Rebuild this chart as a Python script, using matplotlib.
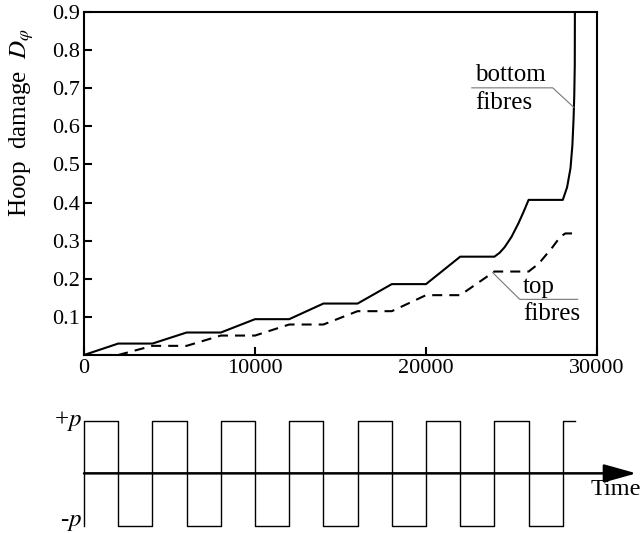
import numpy as np
import matplotlib.pyplot as plt

plt.rcParams['font.family'] = ['Liberation Serif', 'DejaVu Serif']
plt.rcParams['mathtext.fontset'] = 'stix'

# damage history
bottom_t = [0, 2000, 4000, 6000, 8000, 10000, 12000, 14000, 16000, 18000, 20000,
            21000, 22000, 24000, 24300, 24600, 25000, 25400, 25700, 26000, 28000,
            28250, 28450, 28560, 28630, 28670, 28700, 28710]
bottom_d = [0, 0.030, 0.030, 0.059, 0.059, 0.094, 0.094, 0.135, 0.135, 0.186, 0.186,
            0.222, 0.258, 0.258, 0.268, 0.283, 0.310, 0.345, 0.375, 0.407, 0.407,
            0.440, 0.490, 0.550, 0.620, 0.680, 0.760, 0.950]
top_t = [0, 2000, 4000, 6000, 8000, 10000, 12000, 14000, 16000, 18000, 20000,
         22000, 24000, 26000, 26600, 27400, 27850, 28150, 28600]
top_d = [0, 0, 0.024, 0.024, 0.051, 0.051, 0.080, 0.080, 0.115, 0.115, 0.157,
         0.157, 0.219, 0.219, 0.240, 0.283, 0.310, 0.319, 0.319]

# loading: +p / -p half cycles
load_t = [0, 2000, 4000, 6000, 8000, 10000, 12000, 14000, 16000, 18000, 20000,
          22000, 24000, 26000, 28000, 28700]
load_p = [1, -1, 1, -1, 1, -1, 1, -1, 1, -1, 1, -1, 1, -1, 1, 1]

xticks = [0, 10000, 20000, 30000]
yticks = [0.1, 0.2, 0.3, 0.4, 0.5, 0.6, 0.7, 0.8, 0.9]

W, H = 643, 533
fig = plt.figure(figsize=(W / 100, H / 100), dpi=100)

ax = fig.add_axes([84 / W, 1 - 355 / H, (597 - 84) / W, (355 - 12) / H])
ax.plot(bottom_t, bottom_d, color='k', lw=1.5)
ax.plot(top_t, top_d, color='k', lw=1.5, ls=(0, (4.8, 3.4)))
ax.set_xlim(0, 30000)
ax.set_ylim(0, 0.9)
ax.set_xticks(xticks)
ax.set_xticklabels([str(v) for v in xticks])
ax.set_yticks(yticks)
ax.set_yticklabels([f'{v:.1f}' for v in yticks])
ax.tick_params(direction='in', length=6, width=1.5, labelsize=16, pad=3)
for s in ax.spines.values():
    s.set_linewidth(1.5)

fig.text(22 / W, 1 - 123 / H, 'Hoop  damage  $D_\\varphi$', rotation=90,
         ha='center', va='center', fontsize=18)

# labels with leader lines
grey = '#777777'
ax.plot([22677, 27411, 28640], [0.701, 0.701, 0.650], color=grey, lw=0.8)
ax.text(22850, 0.735, 'bottom', fontsize=18, ha='left', va='center')
ax.text(22850, 0.662, 'fibres', fontsize=18, ha='left', va='center')
ax.plot([23904, 25482, 28872], [0.216, 0.146, 0.146], color=grey, lw=0.8)
ax.text(25657, 0.178, 'top', fontsize=18, ha='left', va='center')
ax.text(25657, 0.108, 'fibres', fontsize=18, ha='left', va='center')

# loading history panel
bx = fig.add_axes([84 / W, 1 - 526 / H, (597 - 84) / W, (526 - 420.7) / H])
bx.set_xlim(0, 30000)
bx.set_ylim(-1, 1)
bx.axis('off')
bx.plot([0] + load_t, [-1] + load_p, color='k', lw=1.0, drawstyle='steps-post',
        clip_on=False)
bx.annotate('', xy=(32300, 0), xytext=(0, 0), annotation_clip=False,
            arrowprops=dict(arrowstyle='-|>,head_length=1.0,head_width=0.28',
                            color='k', lw=1.8, mutation_scale=20,
                            shrinkA=0, shrinkB=0))
bx.text(29650, -0.30, 'Time', fontsize=17.5, ha='left', va='center')
bx.text(-120, 1.0, '+$p$', fontsize=18, ha='right', va='center')
bx.text(-120, -0.93, '-$p$', fontsize=18, ha='right', va='center')

fig.savefig('out.png', dpi=100)
